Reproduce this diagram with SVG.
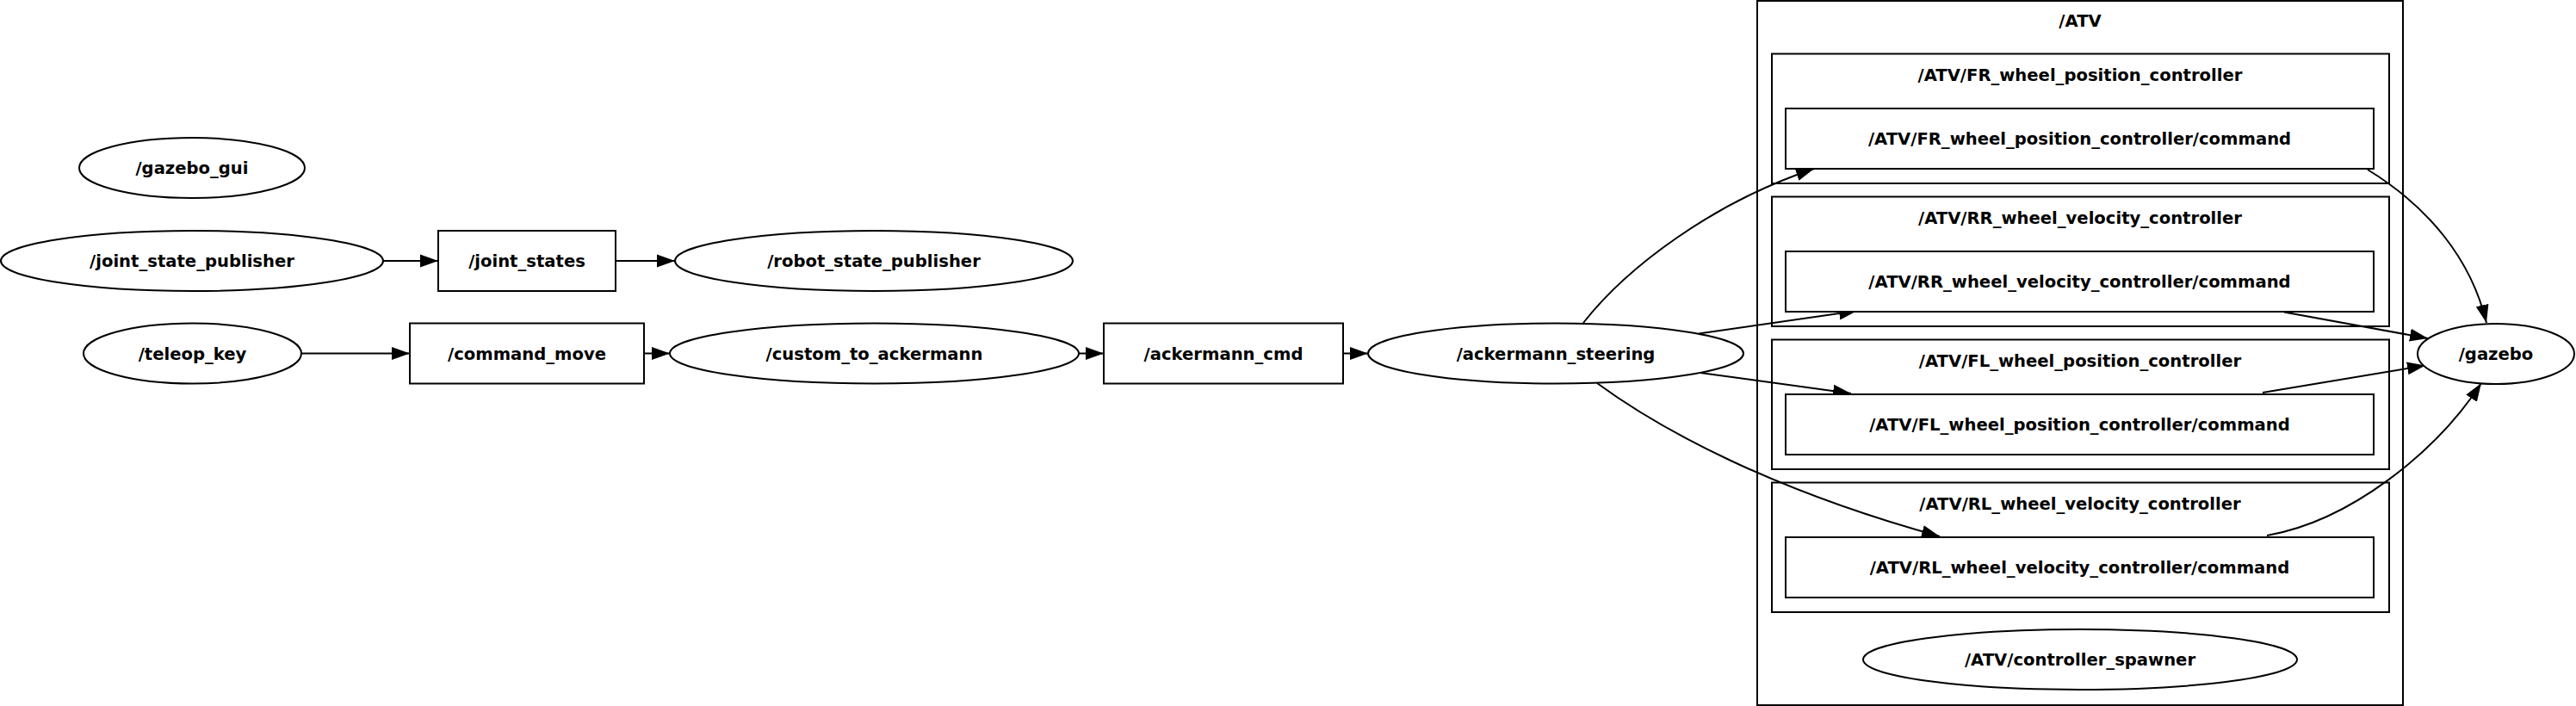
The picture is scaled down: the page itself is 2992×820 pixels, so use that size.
<svg xmlns="http://www.w3.org/2000/svg" width="2992" height="820" viewBox="0 0 2992 820">
<style>
.n{fill:#fff;stroke:#000;stroke-width:2}
.c{fill:none;stroke:#000;stroke-width:2}
.e{fill:none;stroke:#000;stroke-width:2}
text{font-family:"DejaVu Sans",sans-serif;font-weight:bold;font-size:19.6px;text-anchor:middle;fill:#000}
</style>
<defs>
<marker id="arr" markerUnits="userSpaceOnUse" markerWidth="22" markerHeight="16" refX="21" refY="8" orient="auto">
<path d="M0,0.5 L21,8 L0,15.5 z" fill="#000"/>
</marker>
</defs>
<rect width="2992" height="820" fill="#fff"/>
<g id="cluster_ATV">
<rect class="c" x="2041" y="1" width="750" height="818"/>
<text x="2416" y="31">/ATV</text>
</g>
<g id="cluster_FR">
<rect class="c" x="2058" y="62.5" width="717" height="150.5"/>
<text x="2416" y="93.5">/ATV/FR_wheel_position_controller</text>
</g>
<g id="cluster_RR">
<rect class="c" x="2058" y="228.5" width="717" height="150.5"/>
<text x="2416" y="259.5">/ATV/RR_wheel_velocity_controller</text>
</g>
<g id="cluster_FL">
<rect class="c" x="2058" y="394.5" width="717" height="150.5"/>
<text x="2416" y="425.5">/ATV/FL_wheel_position_controller</text>
</g>
<g id="cluster_RL">
<rect class="c" x="2058" y="560.5" width="717" height="150.5"/>
<text x="2416" y="591.5">/ATV/RL_wheel_velocity_controller</text>
</g>
<g id="edges">
<path class="e" d="M445,303 L509,303" marker-end="url(#arr)"/>
<path class="e" d="M715,303 L784,303" marker-end="url(#arr)"/>
<path class="e" d="M350,410.5 L476,410.5" marker-end="url(#arr)"/>
<path class="e" d="M748,410.5 L778,410.5" marker-end="url(#arr)"/>
<path class="e" d="M1253,410.5 L1282,410.5" marker-end="url(#arr)"/>
<path class="e" d="M1560,410.5 L1589,410.5" marker-end="url(#arr)"/>
<path class="e" d="M1839,375 C1890,310 1990,235 2107,196" marker-end="url(#arr)"/>
<path class="e" d="M1973,387.5 L2157,361" marker-end="url(#arr)"/>
<path class="e" d="M1975,433 L2150,457" marker-end="url(#arr)"/>
<path class="e" d="M1855,445 C1930,500 2060,570 2253,623" marker-end="url(#arr)"/>
<path class="e" d="M2750,197 C2820,240 2870,300 2888,375" marker-end="url(#arr)"/>
<path class="e" d="M2653,362.5 L2820,393" marker-end="url(#arr)"/>
<path class="e" d="M2628,456 L2817,424.5" marker-end="url(#arr)"/>
<path class="e" d="M2633,622 C2730,605 2830,525 2882,445" marker-end="url(#arr)"/>
</g>
<g id="gazebo_gui"><ellipse class="n" cx="223" cy="195" rx="131" ry="35"/><text x="223" y="202">/gazebo_gui</text></g>
<g id="joint_state_publisher"><ellipse class="n" cx="223" cy="303" rx="222" ry="35"/><text x="223" y="310">/joint_state_publisher</text></g>
<g id="joint_states"><rect class="n" x="509" y="268" width="206" height="70"/><text x="612" y="310">/joint_states</text></g>
<g id="robot_state_publisher"><ellipse class="n" cx="1015" cy="303" rx="231" ry="35"/><text x="1015" y="310">/robot_state_publisher</text></g>
<g id="teleop_key"><ellipse class="n" cx="223.5" cy="410.5" rx="126.5" ry="35"/><text x="223.5" y="417.5">/teleop_key</text></g>
<g id="command_move"><rect class="n" x="476" y="375.5" width="272" height="70"/><text x="612" y="417.5">/command_move</text></g>
<g id="custom_to_ackermann"><ellipse class="n" cx="1015.5" cy="410.5" rx="237.5" ry="35"/><text x="1015.5" y="417.5">/custom_to_ackermann</text></g>
<g id="ackermann_cmd"><rect class="n" x="1282" y="375.5" width="278" height="70"/><text x="1421" y="417.5">/ackermann_cmd</text></g>
<g id="ackermann_steering"><ellipse class="n" cx="1807" cy="410.5" rx="218" ry="35"/><text x="1807" y="417.5">/ackermann_steering</text></g>
<g id="FR_command"><rect class="n" x="2074" y="126" width="683" height="70"/><text x="2415.5" y="168">/ATV/FR_wheel_position_controller/command</text></g>
<g id="RR_command"><rect class="n" x="2074" y="292" width="683" height="70"/><text x="2415.5" y="334">/ATV/RR_wheel_velocity_controller/command</text></g>
<g id="FL_command"><rect class="n" x="2074" y="458" width="683" height="70"/><text x="2415.5" y="500">/ATV/FL_wheel_position_controller/command</text></g>
<g id="RL_command"><rect class="n" x="2074" y="624" width="683" height="70"/><text x="2415.5" y="666">/ATV/RL_wheel_velocity_controller/command</text></g>
<g id="controller_spawner"><ellipse class="n" cx="2416" cy="766" rx="252" ry="35"/><text x="2416" y="773">/ATV/controller_spawner</text></g>
<g id="gazebo"><ellipse class="n" cx="2899" cy="411" rx="91" ry="35"/><text x="2899" y="418">/gazebo</text></g>
</svg>
